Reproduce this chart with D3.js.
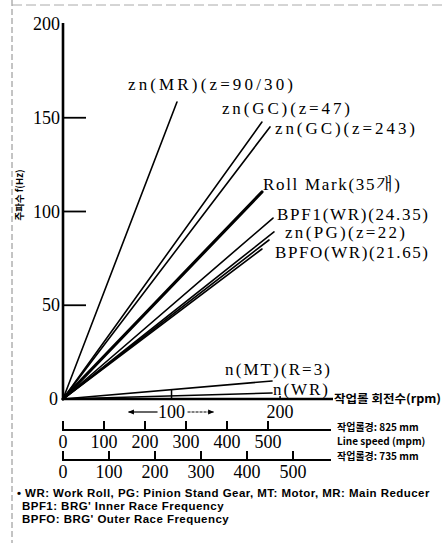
<!DOCTYPE html>
<html><head><meta charset="utf-8">
<script src="https://cdn.jsdelivr.net/npm/d3@7"></script>
<style>
html,body{margin:0;padding:0;background:#fff;}
svg{display:block;}
</style></head>
<body>
<script>
// ---------- data ----------
const yTicks = [0, 50, 100, 150, 200];
const yTickMarks = [50, 100, 150];
const rpmTicks = [100, 200];
const speed825Ticks = [0, 100, 200, 300, 400, 500];
const speed735Ticks = [0, 100, 200, 300, 400, 500];
const seriesNames = ["zn(MR)(z=90/30)", "zn(GC)(z=47)", "zn(GC)(z=243)", "Roll Mark(35개)",
  "BPF1(WR)(24.35)", "zn(PG)(z=22)", "BPFO(WR)(21.65)", "", "n(MT)(R=3)", "n(WR)"];
const seriesEndRpm = [105, 183.3, 190.7, 183.3, 193.5, 194.4, 189.8, 183.3, 192.6, 192.6];
const seriesEndHz  = [158.4, 147.7, 145.1, 110.4, 96.5, 89.1, 84.8, 80.0, 9.6, 3.2];
const footnotes = ["• WR: Work Roll, PG: Pinion Stand Gear, MT: Motor, MR: Main Reducer",
  "BPF1: BRG' Inner Race Frequency", "BPFO: BRG' Outer Race Frequency"];

// ---------- styles / layout ----------
const labelDx = [-49, -40, 5, 1, 4, 11, 6, 0, -47, 1];
const labelDy = [-12, -8, 7, -2, 2, 6, 18, 0, -6, 2];
const labelW  = [165, 128, 140, 137, 151, 120, 153, 0, 105, 55];
const lineW   = [1.6, 1.6, 1.6, 3.2, 1.6, 1.6, 1.6, 1.6, 1.6, 1.6];

const W = 444, H = 543;
const svg = d3.select("body").append("svg").attr("width", W).attr("height", H);
const serif = "'Liberation Serif','Times New Roman','Noto Serif CJK KR','Noto Sans CJK KR',serif";
const sans = "'Liberation Sans',Arial,'Noto Sans CJK KR',sans-serif";
const kr = "'Noto Sans CJK KR','Liberation Sans',sans-serif";

// scan border artifacts
svg.append("line").attr("x1", 12).attr("x2", 12).attr("y1", 0).attr("y2", H)
  .attr("stroke", "#888").attr("stroke-width", 1).attr("stroke-dasharray", "6,3");
svg.append("line").attr("x1", 12).attr("x2", W).attr("y1", 5).attr("y2", 5)
  .attr("stroke", "#aaa").attr("stroke-width", 1).attr("stroke-dasharray", "10,4");

const x0 = 63;
const x = d3.scaleLinear().domain([0, 246]).range([x0, 330]);
const y = d3.scaleLinear().domain([0, 200]).range([399, 24]);
const s825 = d3.scaleLinear().domain([0, 650]).range([x0, 329.5]);
const s735 = d3.scaleLinear().domain([0, 580]).range([x0, 329.8]);

// y axis
svg.append("line").attr("x1", x0).attr("x2", x0).attr("y1", y(200) - 1).attr("y2", y(0) + 1)
  .attr("stroke", "#000").attr("stroke-width", 2.6);
svg.selectAll(".ytm").data(yTickMarks).enter().append("line")
  .attr("x1", x0).attr("x2", x0 + 23).attr("y1", d => y(d)).attr("y2", d => y(d))
  .attr("stroke", "#000").attr("stroke-width", 1.8);
svg.selectAll(".ytl").data(yTicks).enter().append("text")
  .attr("x", d => d === 0 ? x0 - 5 : x0 - 3).attr("y", d => y(d) + 6)
  .attr("text-anchor", "end").attr("font-family", serif).attr("font-size", 18)
  .text(d => d);
svg.append("text").attr("transform", "translate(23,195) rotate(-90)")
  .attr("text-anchor", "middle").attr("font-family", kr).attr("font-size", 9.5)
  .attr("font-weight", "bold").text("주파수 f(Hz)");

// series lines
const idx = d3.range(seriesNames.length);
svg.selectAll(".ser").data(idx).enter().append("line")
  .attr("x1", x(0)).attr("y1", y(0))
  .attr("x2", i => x(seriesEndRpm[i])).attr("y2", i => y(seriesEndHz[i]))
  .attr("stroke", "#000").attr("stroke-width", i => lineW[i]).attr("stroke-linecap", "round");
svg.selectAll(".lab").data(idx.filter(i => seriesNames[i])).enter().append("text")
  .attr("x", i => x(seriesEndRpm[i]) + labelDx[i])
  .attr("y", i => y(seriesEndHz[i]) + labelDy[i])
  .attr("font-family", serif).attr("font-size", 17)
  .attr("textLength", i => labelW[i]).attr("lengthAdjust", "spacing")
  .text(i => seriesNames[i]);

// rpm axis (zero line)
svg.append("line").attr("x1", x0).attr("x2", 333).attr("y1", y(0)).attr("y2", y(0))
  .attr("stroke", "#000").attr("stroke-width", 2.6);
svg.selectAll(".rt").data(rpmTicks).enter().append("line")
  .attr("x1", d => x(d)).attr("x2", d => x(d)).attr("y1", y(0))
  .attr("y2", d => d === 100 ? y(0) - 9 : y(0) - 3)
  .attr("stroke", "#000").attr("stroke-width", 1.5);
svg.selectAll(".rtl").data(rpmTicks).enter().append("text")
  .attr("x", d => x(d)).attr("y", 418).attr("text-anchor", "middle")
  .attr("font-family", serif).attr("font-size", 18).text(d => d);
const defs = svg.append("defs");
defs.append("marker").attr("id", "ah").attr("viewBox", "0 0 10 10").attr("refX", 9).attr("refY", 5)
  .attr("markerWidth", 5).attr("markerHeight", 5).attr("orient", "auto-start-reverse")
  .append("path").attr("d", "M0,1 L10,5 L0,9 Z").attr("fill", "#000");
svg.append("line").attr("x1", x(100) - 14).attr("x2", x(100) - 43).attr("y1", 412).attr("y2", 412)
  .attr("stroke", "#000").attr("stroke-width", 1.2).attr("marker-end", "url(#ah)");
svg.append("line").attr("x1", x(100) + 16).attr("x2", x(100) + 42).attr("y1", 412).attr("y2", 412)
  .attr("stroke", "#000").attr("stroke-width", 1.2).attr("stroke-dasharray", "3,1").attr("marker-end", "url(#ah)");
svg.append("text").attr("x", 334).attr("y", 403).attr("font-family", kr).attr("font-size", 11.5)
  .attr("textLength", 107).attr("lengthAdjust", "spacingAndGlyphs")
  .attr("font-weight", "bold").text("작업롤 회전수(rpm)");

// line speed axes
function speedAxis(scale, ticks, yLine, yLab) {
  svg.append("line").attr("x1", x0 - 1).attr("x2", 331).attr("y1", yLine).attr("y2", yLine)
    .attr("stroke", "#000").attr("stroke-width", 2);
  svg.selectAll(null).data(ticks).enter().append("line")
    .attr("x1", d => scale(d)).attr("x2", d => scale(d)).attr("y1", yLine).attr("y2", yLine - 9)
    .attr("stroke", "#000").attr("stroke-width", 2);
  svg.selectAll(null).data(ticks).enter().append("text")
    .attr("x", d => scale(d)).attr("y", yLab).attr("text-anchor", "middle")
    .attr("font-family", serif).attr("font-size", 18).text(d => d);
}
speedAxis(s825, speed825Ticks, 430, 448);
speedAxis(s735, speed735Ticks, 460, 478);
const rl = [["작업롤경: 825 mm", 431], ["Line speed (mpm)", 445], ["작업롤경: 735 mm", 460]];
svg.selectAll(".rl").data(rl).enter().append("text")
  .attr("x", 337).attr("y", d => d[1]).attr("font-family", kr).attr("font-size", 10)
  .attr("font-weight", "bold").text(d => d[0]);

// footnotes
svg.selectAll(".fn").data(footnotes).enter().append("text")
  .attr("x", (d, i) => i === 0 ? 17 : 22).attr("y", (d, i) => 497 + i * 13)
  .attr("font-family", sans).attr("font-size", 11.5).attr("font-weight", "bold")
  .attr("letter-spacing", 0.45)
  .text(d => d);
</script>
</body></html>
